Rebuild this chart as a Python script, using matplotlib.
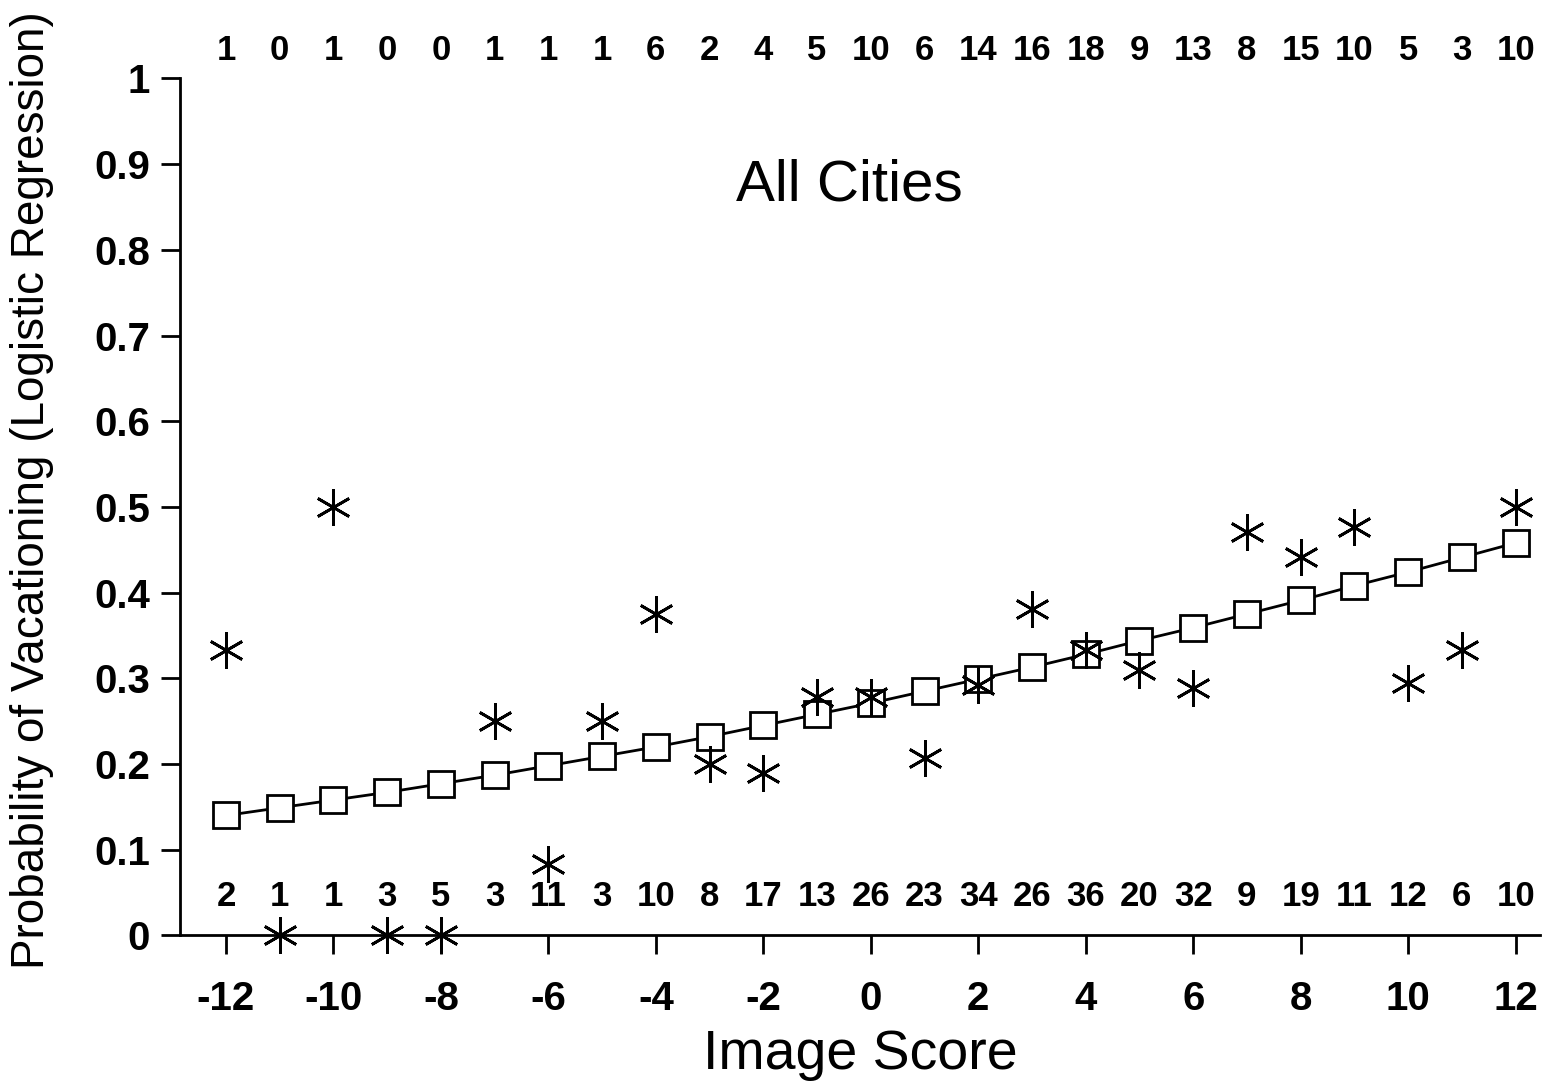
import matplotlib
matplotlib.use("Agg")
import matplotlib.pyplot as plt

plt.rcParams["font.family"] = ["Liberation Sans", "DejaVu Sans"]
plt.rcParams["axes.unicode_minus"] = False

scores = list(range(-12, 13))
# effectifs "oui" (en haut) et "non" (en bas) pour chaque score
n_yes = [1, 0, 1, 0, 0, 1, 1, 1, 6, 2, 4, 5, 10, 6, 14, 16, 18, 9, 13, 8, 15, 10, 5, 3, 10]
n_no = [2, 1, 1, 3, 5, 3, 11, 3, 10, 8, 17, 13, 26, 23, 34, 26, 36, 20, 32, 9, 19, 11, 12, 6, 10]
# proportions observées (étoiles)
observed = [0.333, 0.0, 0.5, 0.0, 0.0, 0.25, 0.083, 0.25, 0.375, 0.2, 0.19, 0.278, 0.278,
            0.207, 0.292, 0.381, 0.333, 0.31, 0.289, 0.471, 0.441, 0.476, 0.294, 0.333, 0.5]
# courbe logistique ajustée (carrés)
fitted = [0.140, 0.149, 0.158, 0.167, 0.177, 0.187, 0.198, 0.209, 0.220, 0.232, 0.245, 0.258,
          0.271, 0.285, 0.299, 0.313, 0.328, 0.344, 0.359, 0.375, 0.391, 0.408, 0.424, 0.441, 0.458]

fig = plt.figure(figsize=(15.68, 10.89), dpi=100)
ax = fig.add_axes([0.115, 0.141, 0.867, 0.787])

ax.plot(scores, fitted, color="black", lw=2, marker="s", ms=19,
        mfc="white", mec="black", mew=2, zorder=3)
ax.plot(scores, observed, ls="none", marker=(6, 2, 0), ms=26,
        color="black", mew=2, zorder=4, clip_on=False)

for x, a, b in zip(scores, n_yes, n_no):
    ax.text(x, 1.032, str(a), ha="center", va="center", fontsize=25, fontweight="bold")
    ax.text(x, 0.046, str(b), ha="center", va="center", fontsize=25, fontweight="bold")

ax.text(-0.4, 0.875, "All Cities", ha="center", va="center", fontsize=42)

ax.set_xlim(-12.85, 12.45)
ax.set_ylim(0, 1)
ax.set_xticks(range(-12, 13, 2))
ax.set_yticks([i / 10 for i in range(11)])
ax.set_yticklabels(["0", "0.1", "0.2", "0.3", "0.4", "0.5", "0.6", "0.7", "0.8", "0.9", "1"])
ax.tick_params(axis="both", labelsize=29, width=2, length=14, direction="out")
ax.tick_params(axis="x", pad=18)
ax.tick_params(axis="y", pad=8)
for lab in ax.get_xticklabels() + ax.get_yticklabels():
    lab.set_fontweight("bold")

for s in ["top", "right"]:
    ax.spines[s].set_visible(False)
for s in ["left", "bottom"]:
    ax.spines[s].set_linewidth(2)

ax.set_xlabel("Image Score", fontsize=40, labelpad=8)
ax.set_ylabel("Probability of Vacationing (Logistic Regression)", fontsize=33, labelpad=10)
ax.yaxis.set_label_coords(-0.093, 0.52)

fig.savefig("out.png", dpi=100)
